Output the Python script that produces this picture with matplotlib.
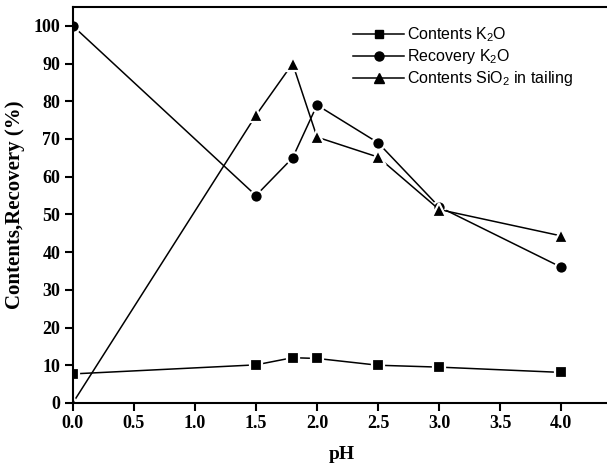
import matplotlib.pyplot as plt
from matplotlib.lines import Line2D

plt.rcParams['mathtext.fontset'] = 'custom'
plt.rcParams['mathtext.rm'] = 'Liberation Sans'

ph = [0.0, 1.5, 1.8, 2.0, 2.5, 3.0, 4.0]
contents_k2o = [7.7, 10.1, 12.0, 11.8, 10.0, 9.5, 8.1]
recovery_k2o = [100, 55, 65, 79, 69, 52, 36]
contents_sio2 = [0, 76.3, 90, 70.5, 65.2, 51.3, 44.3]

labels = [r'Contents K$_\mathregular{2}$O',
          r'Recovery K$_\mathregular{2}$O',
          r'Contents SiO$_\mathregular{2}$ in tailing']
markers = ['s', 'o', '^']
sizes = [8, 9, 9.5]

fig = plt.figure(figsize=(6.07, 4.68), dpi=100)
ax = fig.add_axes([0.120, 0.139, 0.885, 0.846])

handles = []
for y, m, s, lab in zip([contents_k2o, recovery_k2o, contents_sio2], markers, sizes, labels):
    ax.plot(ph, y, color='black', lw=1.1, marker=m, ms=s,
            markerfacecolor='black', markeredgecolor='white', markeredgewidth=1.6)
    handles.append(Line2D([], [], color='black', lw=1.1, marker=m, ms=s - 2.5,
                          markerfacecolor='black', markeredgecolor='black', label=lab))

ax.set_xlim(0, 4.4)
ax.set_ylim(0, 105)
ax.set_xticks([0.0, 0.5, 1.0, 1.5, 2.0, 2.5, 3.0, 3.5, 4.0])
ax.set_yticks(range(0, 101, 10))
ax.set_xticklabels(['%.1f' % v for v in ax.get_xticks()])

for side in ['left', 'bottom', 'top']:
    ax.spines[side].set_linewidth(1.5)
ax.spines['right'].set_visible(False)

ax.tick_params(direction='out', length=6, width=1.5, labelsize=13, pad=3)
for t in ax.get_xticklabels() + ax.get_yticklabels():
    t.set_fontfamily('Liberation Serif')
    t.set_fontweight('bold')

ax.set_xlabel('pH', fontfamily='Liberation Serif', fontweight='bold', fontsize=14, labelpad=10)
ax.set_ylabel('Contents,Recovery (%)', fontfamily='Liberation Serif', fontweight='bold',
              fontsize=15, labelpad=6)

leg = ax.legend(handles=handles, loc='upper left', bbox_to_anchor=(0.495, 0.99), frameon=False,
                prop={'family': 'Liberation Sans', 'size': 11.5}, handlelength=3.2,
                handletextpad=0.2, labelspacing=0.2)

fig.savefig('out.png', dpi=100)
